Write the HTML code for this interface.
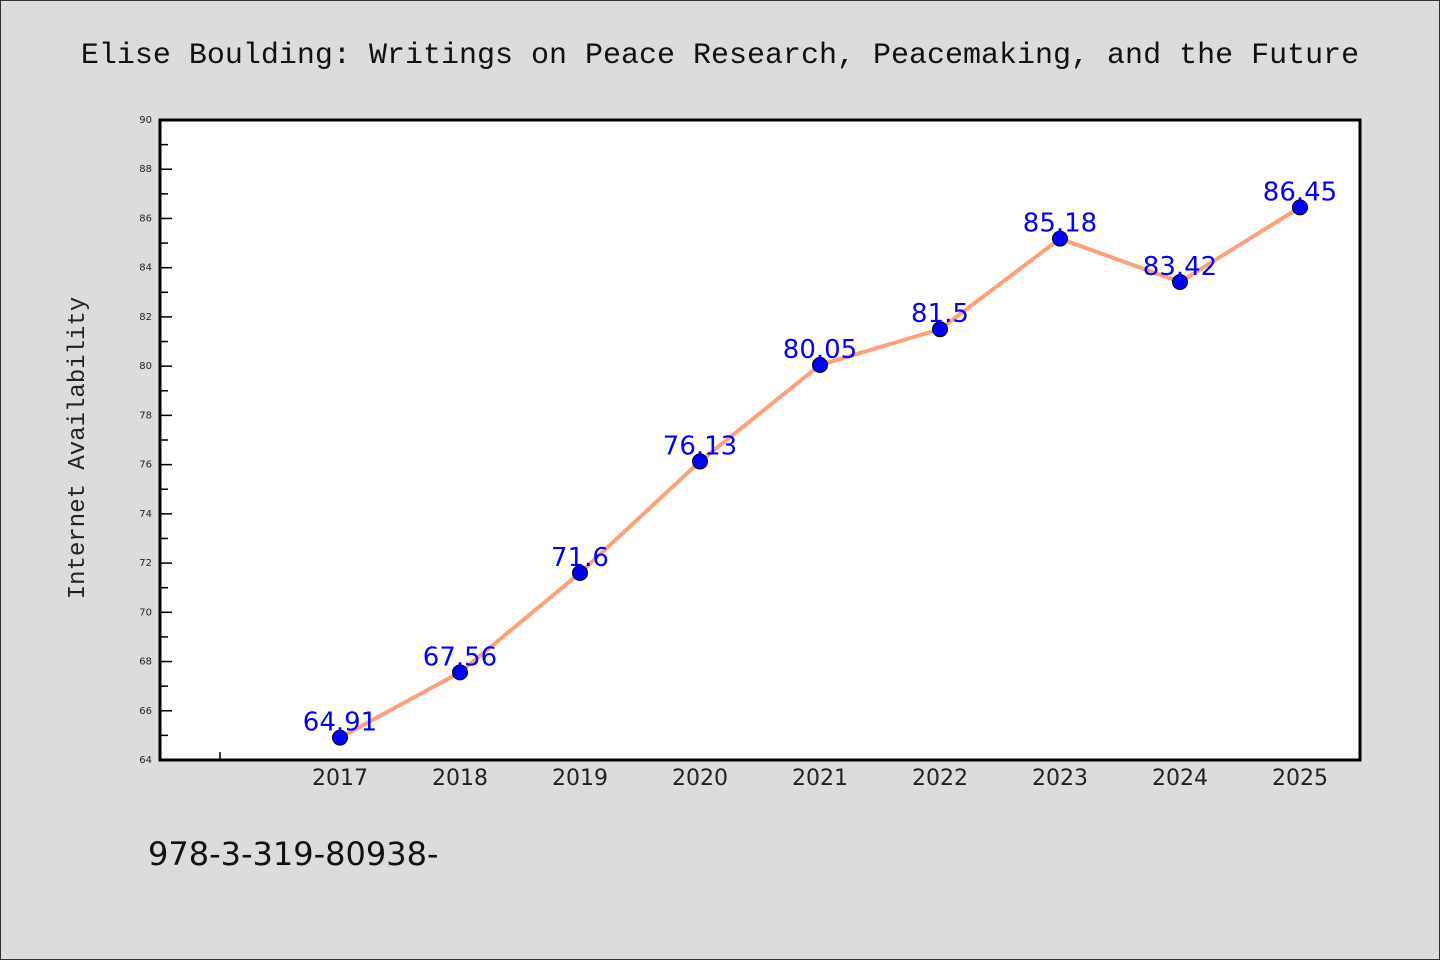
<!DOCTYPE html>
<html><head><meta charset="utf-8"><style>
html,body{margin:0;padding:0;background:#dcdcdc}
svg{display:block}
</style></head><body>
<svg width="1440" height="960" xmlns="http://www.w3.org/2000/svg">
<rect x="0.5" y="0.5" width="1439" height="959" fill="#dcdcdc" stroke="#333"/>
<text x="720" y="63" text-anchor="middle" font-family="'Liberation Mono','DejaVu Sans Mono',monospace" font-size="30" fill="#111">Elise Boulding: Writings on Peace Research, Peacemaking, and the Future</text>
<rect x="160" y="120" width="1200" height="640" fill="#fff"/>
<g id="axes"></g>
<g id="series"></g>
<rect x="160" y="120" width="1200" height="640" fill="none" stroke="#000" stroke-width="3"/>
<text transform="translate(84,448) rotate(-90)" text-anchor="middle" font-family="'Liberation Mono','DejaVu Sans Mono',monospace" font-size="24" fill="#222">Internet Availability</text>
<text x="148" y="865" font-family="'DejaVu Sans','Liberation Sans',sans-serif" font-size="32" fill="#111">978-3-319-80938-</text>
</svg>
<script>
const years=[2017,2018,2019,2020,2021,2022,2023,2024,2025];
const values=[64.91,67.56,71.6,76.13,80.05,81.5,85.18,83.42,86.45];
const labels=["64.91","67.56","71.6","76.13","80.05","81.5","85.18","83.42","86.45"];
const yTicks=[64,66,68,70,72,74,76,78,80,82,84,86,88,90];
const NS="http://www.w3.org/2000/svg";
const X0=160,X1=1360,Y0=760,Y1=120,xmin=2015.5,xmax=2025.5,ymin=64,ymax=90;
const xs=v=>X0+(v-xmin)/(xmax-xmin)*(X1-X0);
const ys=v=>Y0-(v-ymin)/(ymax-ymin)*(Y0-Y1);
function mk(t,a,p){const e=document.createElementNS(NS,t);for(const k in a)e.setAttribute(k,a[k]);p.appendChild(e);return e;}
const ax=document.getElementById('axes'),sr=document.getElementById('series');
yTicks.forEach(v=>{
 const l=mk('line',{x1:X0,x2:X0+12,y1:ys(v),y2:ys(v),stroke:'#000','stroke-width':1.5},ax);
 
 
 const t=mk('text',{x:X0-8,y:ys(v)+3,'text-anchor':'end','font-family':'DejaVu Sans, sans-serif','font-size':10,fill:'#222'},ax);
 t.textContent=v;
 
 
 if(v<90){const m=mk('line',{x1:X0,x2:X0+8,y1:ys(v+1),y2:ys(v+1),stroke:'#000','stroke-width':1.5},ax);
 
 }
});
const t0=mk('line',{x1:xs(2016),x2:xs(2016),y1:Y0,y2:Y0-8,stroke:'#000','stroke-width':1.5},ax);


years.forEach(y=>{
 const t=mk('text',{x:xs(y),y:Y0+25,'text-anchor':'middle','font-family':'DejaVu Sans, sans-serif','font-size':22,fill:'#222'},ax);
 t.textContent=y;
 
 
});
const pl=mk('polyline',{points:years.map((y,i)=>xs(y)+','+ys(values[i])).join(' '),fill:'none',stroke:'#ffa07a','stroke-width':4},sr);


years.forEach((y,i)=>{
 const c=mk('circle',{cx:xs(y),cy:ys(values[i]),r:7.5,fill:'#0000ff',stroke:'#000','stroke-width':1},sr);
 
 
 const t=mk('text',{x:xs(y),y:ys(values[i])-7,'text-anchor':'middle','font-family':'DejaVu Sans, sans-serif','font-size':26,fill:'#0000ff'},sr);
 t.textContent=labels[i];
 
 
});
</script>
</body></html>
